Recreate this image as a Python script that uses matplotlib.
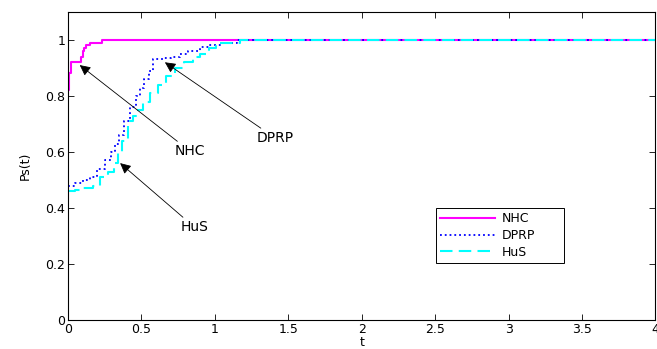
import matplotlib.pyplot as plt

plt.rcParams['font.family'] = 'DejaVu Sans'

t_nhc = [0, 0.01, 0.02, 0.08, 0.09, 0.10, 0.11, 0.12, 0.15, 0.23, 4]
p_nhc = [0.82, 0.88, 0.92, 0.92, 0.94, 0.96, 0.97, 0.98, 0.99, 1.0, 1.0]

t_dprp = [0, 0.05, 0.10, 0.15, 0.20, 0.25, 0.29, 0.32, 0.35, 0.38, 0.42, 0.46, 0.49,
          0.52, 0.55, 0.58, 0.62, 0.65, 0.70, 0.76, 0.82, 0.90, 0.96, 1.04, 1.15, 4]
p_dprp = [0.48, 0.49, 0.50, 0.51, 0.54, 0.57, 0.60, 0.63, 0.66, 0.71, 0.76, 0.80, 0.83,
          0.86, 0.89, 0.93, 0.93, 0.935, 0.94, 0.95, 0.96, 0.976, 0.98, 0.99, 1.0, 1.0]

t_hus = [0, 0.05, 0.10, 0.17, 0.22, 0.27, 0.31, 0.34, 0.37, 0.41, 0.44, 0.47, 0.51,
         0.56, 0.61, 0.67, 0.73, 0.79, 0.85, 0.90, 0.96, 1.01, 1.17, 4]
p_hus = [0.46, 0.465, 0.47, 0.48, 0.51, 0.53, 0.56, 0.60, 0.64, 0.71, 0.73, 0.75, 0.78,
         0.81, 0.84, 0.87, 0.90, 0.92, 0.94, 0.95, 0.97, 0.99, 1.0, 1.0]

fig = plt.figure(figsize=(6.57, 3.49), dpi=100)
ax = fig.add_axes([0.1035, 0.083, 0.894, 0.883])

ax.plot(t_nhc, p_nhc, color='#ff00ff', lw=1.5, drawstyle='steps-post', label='NHC')
ax.plot(t_dprp, p_dprp, color='#0000ff', lw=1.3, ls=':', drawstyle='steps-post', label='DPRP')
ax.plot(t_hus, p_hus, color='#00ffff', lw=1.5, ls=(0, (6, 3)), drawstyle='steps-post', label='HuS')

arrow = dict(arrowstyle='-|>', color='k', lw=0.6, mutation_scale=16, shrinkA=0, shrinkB=0)
ax.annotate('NHC', xy=(0.08, 0.91), xytext=(0.83, 0.603), fontsize=10,
            ha='center', va='center', arrowprops=arrow)
ax.annotate('DPRP', xy=(0.66, 0.92), xytext=(1.41, 0.65), fontsize=10,
            ha='center', va='center', arrowprops=arrow)
ax.annotate('HuS', xy=(0.355, 0.56), xytext=(0.86, 0.332), fontsize=10,
            ha='center', va='center', arrowprops=arrow)

ax.set_xlim(0, 4)
ax.set_ylim(0, 1.1)
ax.set_xticks([0, 0.5, 1, 1.5, 2, 2.5, 3, 3.5, 4])
ax.set_xticklabels(['0', '0.5', '1', '1.5', '2', '2.5', '3', '3.5', '4'])
ax.set_yticks([0, 0.2, 0.4, 0.6, 0.8, 1])
ax.set_yticklabels(['0', '0.2', '0.4', '0.6', '0.8', '1'])
ax.tick_params(direction='in', top=True, right=True, labelsize=9, length=4, width=0.6, pad=2)
for s in ax.spines.values():
    s.set_linewidth(0.8)
ax.set_xlabel('t', fontsize=9, labelpad=0)
ax.set_ylabel('Ps(t)', fontsize=9, labelpad=10)

leg = ax.legend(loc='lower left', bbox_to_anchor=(0.626, 0.185, 0.218, 0.182), mode='expand',
                fontsize=9, fancybox=False, edgecolor='k', framealpha=1,
                borderaxespad=0, handlelength=4.4, labelspacing=0.3, borderpad=0.35,
                handletextpad=0.5)
leg.get_frame().set_linewidth(0.7)

fig.savefig('out.png', dpi=100)
